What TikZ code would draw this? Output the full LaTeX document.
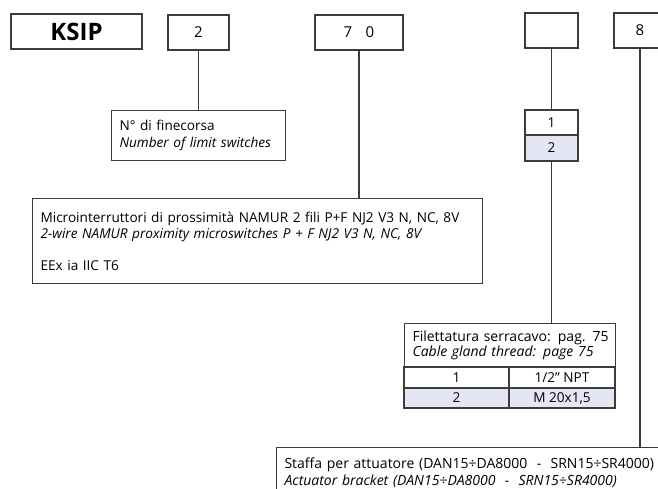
\documentclass[tikz,border=0pt]{standalone}
\usepackage{fontspec}
\setmainfont{Open Sans}
\definecolor{ln}{HTML}{3C3C3C}
\definecolor{lav}{HTML}{E4E6F4}
\begin{document}
\begin{tikzpicture}[x=1pt,y=-1pt,
  box/.style={draw=ln, line width=1.1pt, fill=white, inner sep=0pt},
  conn/.style={draw=ln, line width=1.1pt},
  num/.style={font=\fontsize{15}{17}\selectfont},
  txt/.style={font=\fontsize{13.6}{16.5}\selectfont, align=left, inner xsep=8pt, inner ysep=0pt},
  cell/.style={box, font=\fontsize{13.6}{15}\selectfont}]
\useasboundingbox (0,0) rectangle (658,488);
\clip (0,0) rectangle (658,488);
% top code boxes
\node[box, minimum width=131, minimum height=35, font=\bfseries\fontsize{24}{26}\selectfont] (ksip) at (76.5,31.5) {KSIP};
\node[box, num, minimum width=61, minimum height=35] (b2) at (198.5,32.5) {2};
\node[box, num, minimum width=88, minimum height=35] (b70) at (359,32.5) {7\hspace{0.9em}0};
\node[box, minimum width=53, minimum height=35] (be) at (551.5,30.5) {};
\node[box, num, minimum width=52, minimum height=35] (b8) at (640,30.5) {8};
% description boxes
\node[box, txt, anchor=north west, minimum width=174, minimum height=50, text width=158] (fin) at (111,110)
  {N° di finecorsa\\\textit{Number of limit switches}};
\node[box, txt, anchor=north west, minimum width=450, minimum height=85, text width=434] (micro) at (32,198)
  {Microinterruttori di prossimità NAMUR 2 fili P+F NJ2 V3 N, NC, 8V\\
   \textit{2-wire NAMUR proximity microswitches P + F NJ2 V3 N, NC, 8V}\\[15pt]
   EEx ia IIC T6};
\node[cell, minimum width=53, minimum height=25] (r1) at (551.5,122.5) {1};
\node[cell, fill=lav, minimum width=53, minimum height=26] (r2) at (551.5,148) {2};
\node[box, txt, font=\fontsize{14}{15.5}\selectfont, anchor=north west, minimum width=211, minimum height=44, text width=195] (fil) at (404,323)
  {\mbox{Filettatura serracavo: pag. 75}\\\mbox{\textit{Cable gland thread: page 75}}};
\node[cell, minimum width=105, minimum height=21] (c11) at (456.5,377.5) {1};
\node[cell, minimum width=106, minimum height=21] (c12) at (562,377.5) {1/2” NPT};
\node[cell, fill=lav, minimum width=105, minimum height=20] (c21) at (456.5,398) {2};
\node[cell, fill=lav, minimum width=106, minimum height=20] (c22) at (562,398) {M 20x1,5};
\node[box, txt, font=\fontsize{14}{16.5}\selectfont, anchor=north west, minimum width=420, minimum height=50, text width=404] (staffa) at (276,447)
  {Staffa per attuatore (DAN15÷DA8000\ \ -\ \ SRN15÷SR4000)\\
   \textit{Actuator bracket (DAN15÷DA8000\ \ -\ \ SRN15÷SR4000)}};
% connectors
\draw[conn] (b2.south) -- (b2.south |- fin.north);
\draw[conn] (b70.south) -- (b70.south |- micro.north);
\draw[conn] (be.south) -- (r1.north);
\draw[conn] (r2.south) -- (r2.south |- fil.north);
\draw[conn] (b8.south) -- (b8.south |- staffa.north);
\end{tikzpicture}
\end{document}
